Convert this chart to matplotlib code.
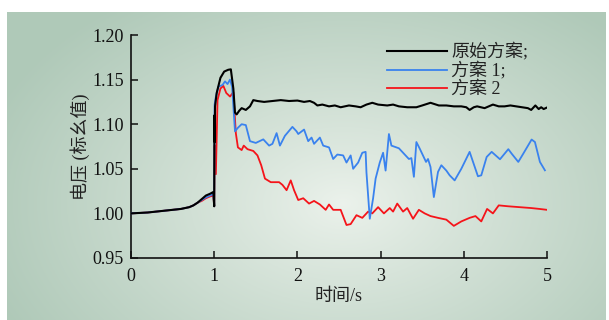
import numpy as np
import matplotlib
matplotlib.use("Agg")
import matplotlib.pyplot as plt

plt.rcParams['font.family'] = ['Liberation Serif', 'Noto Sans CJK SC', 'DejaVu Sans']

# ---------------- data ----------------
t_black = [0, 0.2, 0.4, 0.5, 0.6, 0.7, 0.75, 0.8, 0.85, 0.9, 0.95, 0.99, 1.0, 1.003, 1.006, 1.01,
           1.03, 1.075, 1.12, 1.168, 1.20, 1.23, 1.25, 1.27, 1.30, 1.33, 1.38, 1.43, 1.47, 1.52,
           1.6, 1.7, 1.8, 1.9, 2.0, 2.08, 2.15, 2.2, 2.24, 2.3, 2.38, 2.45, 2.52, 2.62, 2.7, 2.76,
           2.83, 2.9, 2.97, 3.08, 3.15, 3.22, 3.32, 3.43, 3.5, 3.6, 3.7, 3.79, 3.88, 3.97, 4.03,
           4.07, 4.12, 4.16, 4.25, 4.35, 4.42, 4.49, 4.56, 4.63, 4.7, 4.77, 4.81, 4.86, 4.9, 4.93,
           4.96, 5.0]
v_black = [1.000, 1.001, 1.003, 1.004, 1.005, 1.007, 1.009, 1.012, 1.016, 1.020, 1.022, 1.024,
           1.008, 1.110, 1.080, 1.120, 1.135, 1.152, 1.159, 1.161, 1.1615, 1.140, 1.113, 1.111,
           1.115, 1.118, 1.116, 1.120, 1.127, 1.126, 1.125, 1.126, 1.127, 1.126, 1.1265, 1.125,
           1.126, 1.124, 1.121, 1.122, 1.120, 1.121, 1.119, 1.121, 1.120, 1.119, 1.122, 1.124,
           1.122, 1.121, 1.122, 1.120, 1.119, 1.119, 1.121, 1.124, 1.121, 1.121, 1.120, 1.120,
           1.119, 1.116, 1.119, 1.120, 1.118, 1.122, 1.120, 1.120, 1.121, 1.120, 1.119, 1.118,
           1.116, 1.121, 1.117, 1.119, 1.117, 1.1187]

t_blue = [0, 0.2, 0.4, 0.5, 0.6, 0.7, 0.75, 0.8, 0.85, 0.9, 0.95, 0.99, 1.0, 1.005, 1.02, 1.05,
          1.10, 1.13, 1.16, 1.19, 1.215, 1.25, 1.285, 1.33, 1.38, 1.43, 1.5, 1.59, 1.66, 1.7,
          1.75, 1.79, 1.85, 1.94, 1.99, 2.01, 2.08, 2.13, 2.17, 2.2, 2.27, 2.31, 2.38, 2.43,
          2.48, 2.55, 2.59, 2.64, 2.67, 2.73, 2.78, 2.82, 2.83, 2.87, 2.91, 2.94, 2.99, 3.03,
          3.06, 3.1, 3.13, 3.22, 3.29, 3.34, 3.37, 3.4, 3.43, 3.47, 3.546, 3.57, 3.6, 3.64,
          3.69, 3.73, 3.79, 3.83, 3.89, 3.97, 4.07, 4.11, 4.17, 4.21, 4.275, 4.335, 4.435,
          4.535, 4.575, 4.655, 4.715, 4.815, 4.855, 4.915, 4.975]
v_blue = [1.000, 1.001, 1.003, 1.004, 1.005, 1.007, 1.009, 1.012, 1.015, 1.018, 1.020, 1.022,
          1.008, 1.122, 1.131, 1.142, 1.144, 1.148, 1.145, 1.150, 1.142, 1.092, 1.096, 1.100,
          1.099, 1.081, 1.079, 1.083, 1.076, 1.078, 1.090, 1.076, 1.087, 1.097, 1.092, 1.089,
          1.094, 1.081, 1.085, 1.078, 1.085, 1.076, 1.074, 1.061, 1.066, 1.065, 1.057, 1.065,
          1.050, 1.057, 1.068, 1.069, 1.046, 0.994, 1.017, 1.039, 1.057, 1.068, 1.048, 1.089,
          1.076, 1.073, 1.066, 1.061, 1.062, 1.041, 1.080, 1.0727, 1.0577, 1.061, 1.052, 1.0183,
          1.0465, 1.054, 1.048, 1.0427, 1.037, 1.050, 1.069, 1.058, 1.0416, 1.0427, 1.0633,
          1.069, 1.0607, 1.072, 1.067, 1.0577, 1.067, 1.0828, 1.080, 1.0577, 1.0483]

t_red = [0, 0.2, 0.4, 0.5, 0.6, 0.7, 0.75, 0.8, 0.85, 0.9, 0.95, 0.99, 1.0, 1.005, 1.02, 1.04,
         1.075, 1.11, 1.145, 1.19, 1.23, 1.26, 1.285, 1.33, 1.355, 1.4, 1.47, 1.52, 1.565, 1.61,
         1.68, 1.78, 1.82, 1.87, 1.92, 1.96, 2.01, 2.07, 2.14, 2.2, 2.27, 2.34, 2.38, 2.43,
         2.52, 2.59, 2.64, 2.71, 2.78, 2.85, 2.9, 2.97, 3.04, 3.11, 3.15, 3.2, 3.27, 3.32,
         3.39, 3.46, 3.53, 3.6, 3.69, 3.79, 3.88, 3.97, 4.07, 4.14, 4.21, 4.28, 4.35, 4.42,
         4.53, 4.67, 4.81, 4.91, 5.0]
v_red = [1.000, 1.001, 1.003, 1.004, 1.005, 1.007, 1.009, 1.012, 1.014, 1.017, 1.019, 1.020,
         1.008, 1.076, 1.044, 1.127, 1.140, 1.143, 1.135, 1.131, 1.136, 1.090, 1.074, 1.071,
         1.076, 1.072, 1.070, 1.065, 1.054, 1.039, 1.035, 1.035, 1.032, 1.026, 1.037, 1.026,
         1.015, 1.017, 1.011, 1.014, 1.010, 1.004, 1.010, 1.004, 1.004, 0.987, 0.988, 0.998,
         0.995, 1.002, 1.000, 1.007, 1.000, 1.006, 1.002, 1.011, 1.002, 1.006, 0.994, 1.004,
         1.000, 0.997, 0.995, 0.993, 0.986, 0.991, 0.995, 0.997, 0.991, 1.005, 1.000, 1.009,
         1.008, 1.007, 1.006, 1.005, 1.004]

labels = ["原始方案;", "方案 1;", "方案 2"]
colors = ["#000000", "#3a82ee", "#f5141a"]
x_ticks = [0, 1, 2, 3, 4, 5]
y_ticks = [0.95, 1.00, 1.05, 1.10, 1.15, 1.20]

# ---------------- figure ----------------
W, H = 609, 320
fig = plt.figure(figsize=(W / 100, H / 100), dpi=100)
fig.patch.set_facecolor("white")

# background gradient panel
bg = fig.add_axes([7 / W, 0, (W - 10) / W, (H - 12) / H], zorder=0)
ny, nx = 200, 400
yy, xx = np.mgrid[0:ny, 0:nx]
cx, cy = 0.56 * nx, 0.62 * ny
r = np.sqrt(((xx - cx) / nx) ** 2 * 1.0 + ((yy - cy) / ny) ** 2 * 0.6)
r = np.clip(r / 0.62, 0, 1) ** 0.9
c0 = np.array([0.925, 0.950, 0.925])
c1 = np.array([0.690, 0.790, 0.725])
img = c0[None, None, :] * (1 - r[..., None]) + c1[None, None, :] * r[..., None]
bg.imshow(img, aspect="auto", origin="upper", extent=[0, 1, 0, 1])
bg.axis("off")

ax = fig.add_axes([131 / W, 1 - 258 / H, (547 - 131) / W, (258 - 35) / H], zorder=1)
ax.patch.set_alpha(0)

ax.plot(t_black, v_black, color=colors[0], lw=1.5, label=labels[0], zorder=4)
ax.plot(t_blue, v_blue, color=colors[1], lw=1.3, label=labels[1], zorder=3)
ax.plot(t_red, v_red, color=colors[2], lw=1.3, label=labels[2], zorder=2)

ax.set_xlim(0, 5)
ax.set_ylim(0.95, 1.20)
ax.set_xticks(x_ticks)
ax.set_xticklabels([str(v) for v in x_ticks])
ax.set_yticks(y_ticks)
ax.set_yticklabels([f"{v:.2f}" for v in y_ticks])
for s in ["top", "right"]:
    ax.spines[s].set_visible(False)
for s in ["left", "bottom"]:
    ax.spines[s].set_linewidth(1.2)
    ax.spines[s].set_color("#111111")
ax.tick_params(direction="in", length=5, width=1.1, labelsize=13, colors="#111111", pad=5)
ax.tick_params(axis="x", pad=7)

ax.set_xlabel("时间/s", fontsize=13, color="#222222", labelpad=2)
ax.set_ylabel("电压 (标幺值)", fontsize=13, color="#222222", labelpad=2)

leg = ax.legend(loc="upper left", bbox_to_anchor=(0.585, 1.02), frameon=False,
                fontsize=13, handlelength=3.3, handletextpad=0.25, labelspacing=0.05,
                borderpad=0.2)
for txt in leg.get_texts():
    txt.set_color("#222222")

fig.savefig("out.png", dpi=100)
